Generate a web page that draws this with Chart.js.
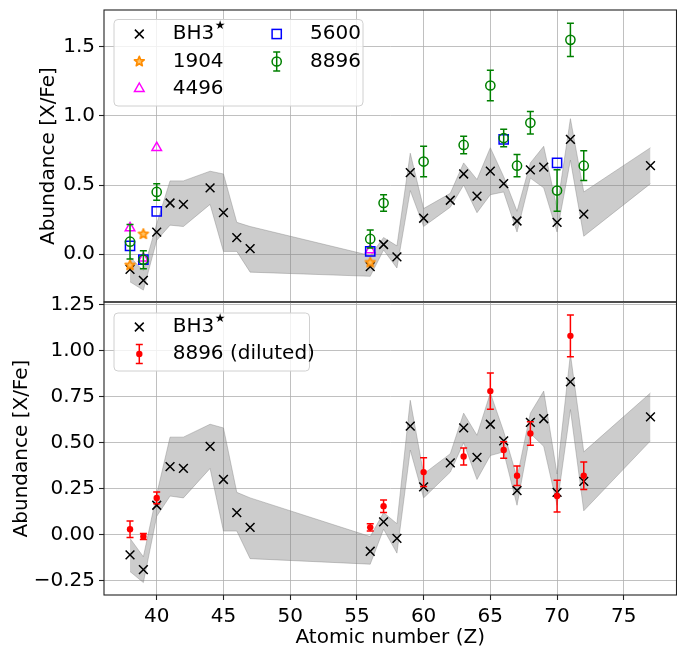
<!DOCTYPE html>
<html>
<head>
<meta charset="utf-8">
<script src="https://cdn.jsdelivr.net/npm/chart.js@4.4.1/dist/chart.umd.min.js"></script>
<style>
    html, body { margin: 0; padding: 0; background: #fff; }
    #wrap { position: relative; width: 677px; height: 646px; }
    #wrap canvas { position: absolute; left: 0; top: 0; }
</style>
</head>
<body>
<div id="wrap">
    <canvas id="top-panel" width="677" height="646"></canvas>
    <canvas id="bottom-panel" width="677" height="646"></canvas>
</div>
<script>
// BH3* abundances and the shaded uncertainty band
const bh3Z = [38, 39, 40, 41, 42, 44, 45, 46, 47, 56, 57, 58, 59, 60, 62, 63, 64, 65, 66, 67, 68, 69, 70, 71, 72, 77];
const bh3Values = [-0.11, -0.19, 0.16, 0.37, 0.36, 0.48, 0.30, 0.12, 0.04, -0.09, 0.07, -0.02, 0.59, 0.26, 0.39, 0.58, 0.42, 0.60, 0.51, 0.24, 0.61, 0.63, 0.23, 0.83, 0.29, 0.64];
const bh3Upper = [-0.02, -0.12, 0.22, 0.53, 0.53, 0.60, 0.58, 0.23, 0.20, -0.01, 0.12, 0.06, 0.73, 0.33, 0.44, 0.66, 0.54, 0.77, 0.56, 0.31, 0.66, 0.78, 0.33, 0.98, 0.45, 0.77];
const bh3Lower = [-0.20, -0.26, 0.10, 0.21, 0.20, 0.36, 0.02, 0.02, -0.13, -0.16, 0.03, -0.10, 0.46, 0.20, 0.34, 0.50, 0.30, 0.43, 0.45, 0.16, 0.55, 0.48, 0.16, 0.68, 0.13, 0.51];

// comparison stars (top panel)
const star1904Z = [38, 39, 56];
const star1904Values = [-0.08, 0.145, -0.06];
const star4496Z = [38, 39, 40, 56];
const star4496Values = [0.19, -0.03, 0.77, 0.03];
const star5600Z = [38, 39, 40, 56, 66, 70];
const star5600Values = [0.06, -0.04, 0.31, 0.02, 0.83, 0.66];
const star8896Z = [38, 39, 40, 56, 57, 60, 63, 65, 66, 67, 68, 70, 71, 72];
const star8896Values = [0.09, -0.04, 0.45, 0.11, 0.37, 0.67, 0.79, 1.22, 0.84, 0.64, 0.95, 0.46, 1.55, 0.64];
const star8896Errors = [0.125, 0.065, 0.06, 0.065, 0.06, 0.11, 0.063, 0.11, 0.063, 0.08, 0.081, 0.15, 0.12, 0.108];

// 8896 after dilution (bottom panel)
const dilutedValues = [0.03, -0.01, 0.20, 0.04, 0.155, 0.34, 0.425, 0.78, 0.46, 0.32, 0.55, 0.21, 1.08, 0.32];
const dilutedErrors = [0.045, 0.016, 0.032, 0.02, 0.034, 0.078, 0.046, 0.098, 0.045, 0.053, 0.064, 0.086, 0.114, 0.075];

// axes
const xTicks = [40, 45, 50, 55, 60, 65, 70, 75];
const topYTicks = [0.0, 0.5, 1.0, 1.5];
const bottomYTicks = [-0.25, 0.0, 0.25, 0.5, 0.75, 1.0, 1.25];

const FONT = "'DejaVu Sans', sans-serif";
const BAND = "rgba(128,128,128,0.4)";
const ORANGE = "#ff8c00";

function points(xs, ys) {
    return xs.map((x, i) => ({x: x, y: ys[i]}));
}

function starImage(color) {
    const c = document.createElement("canvas");
    c.width = 14;
    c.height = 14;
    const g = c.getContext("2d");
    drawStar(g, 7, 7, color);
    return c;
}

function drawStar(g, cx, cy, color) {
    g.save();
    g.strokeStyle = color;
    g.fillStyle = "#ffc266";
    g.lineWidth = 1.6;
    g.lineJoin = "round";
    g.beginPath();
    for (let i = 0; i < 10; i++) {
        const r = i % 2 ? 2.3 : 5.2;
        const a = -Math.PI / 2 + i * Math.PI / 5;
        g.lineTo(cx + r * Math.cos(a), cy + r * Math.sin(a));
    }
    g.closePath();
    g.fill();
    g.stroke();
    g.restore();
}

function bandDatasets() {
    return [{
        data: points(bh3Z, bh3Upper),
        showLine: true, pointRadius: 0, borderWidth: 1,
        borderColor: BAND, backgroundColor: BAND,
        fill: "+1", order: 20
    }, {
        data: points(bh3Z, bh3Lower),
        showLine: true, pointRadius: 0, borderWidth: 1,
        borderColor: BAND, fill: false, order: 21
    }];
}

function bh3Dataset() {
    return {
        data: points(bh3Z, bh3Values),
        pointStyle: "crossRot", pointRadius: 6.2, pointBorderWidth: 1.5,
        borderColor: "#000", backgroundColor: "#000", order: 10
    };
}

const errorBars = {
    id: "errorBars",
    afterDatasetsDraw(chart, args, opts) {
        const {ctx, scales} = chart;
        ctx.save();
        ctx.strokeStyle = opts.color;
        ctx.lineWidth = 1.5;
        opts.z.forEach((z, i) => {
            const px = scales.x.getPixelForValue(z);
            const top = scales.y.getPixelForValue(opts.values[i] + opts.errors[i]);
            const bot = scales.y.getPixelForValue(opts.values[i] - opts.errors[i]);
            ctx.beginPath();
            ctx.moveTo(px, top); ctx.lineTo(px, bot);
            ctx.moveTo(px - 3.5, top); ctx.lineTo(px + 3.5, top);
            ctx.moveTo(px - 3.5, bot); ctx.lineTo(px + 3.5, bot);
            ctx.stroke();
        });
        ctx.restore();
    }
};

const frame = {
    id: "frame",
    afterDraw(chart) {
        const {ctx, chartArea: a} = chart;
        ctx.save();
        ctx.strokeStyle = "#222";
        ctx.lineWidth = 1.1;
        ctx.strokeRect(a.left, a.top, a.right - a.left, a.bottom - a.top);
        ctx.restore();
    }
};

function drawMarker(ctx, kind, x, y) {
    ctx.save();
    ctx.lineWidth = 1.5;
    if (kind === "x") {
        ctx.strokeStyle = "#000";
        ctx.beginPath();
        ctx.moveTo(x - 4.4, y - 4.4); ctx.lineTo(x + 4.4, y + 4.4);
        ctx.moveTo(x - 4.4, y + 4.4); ctx.lineTo(x + 4.4, y - 4.4);
        ctx.stroke();
    } else if (kind === "star") {
        drawStar(ctx, x, y, ORANGE);
    } else if (kind === "triangle") {
        ctx.strokeStyle = "#ff00ff";
        ctx.beginPath();
        ctx.moveTo(x, y - 5.5); ctx.lineTo(x + 4.8, y + 3); ctx.lineTo(x - 4.8, y + 3);
        ctx.closePath();
        ctx.stroke();
    } else if (kind === "square") {
        ctx.strokeStyle = "#0000ff";
        ctx.strokeRect(x - 4.6, y - 4.6, 9.2, 9.2);
    } else {
        const color = kind === "circle" ? "#008000" : "#ff0000";
        ctx.strokeStyle = color;
        ctx.fillStyle = color;
        ctx.beginPath();
        ctx.moveTo(x, y - 9.5); ctx.lineTo(x, y + 9.5);
        ctx.moveTo(x - 3.5, y - 9.5); ctx.lineTo(x + 3.5, y - 9.5);
        ctx.moveTo(x - 3.5, y + 9.5); ctx.lineTo(x + 3.5, y + 9.5);
        ctx.stroke();
        ctx.beginPath();
        if (kind === "circle") {
            ctx.arc(x, y, 4.6, 0, Math.PI * 2);
            ctx.stroke();
        } else {
            ctx.arc(x, y, 3.2, 0, Math.PI * 2);
            ctx.fill();
        }
    }
    ctx.restore();
}

const legendBox = {
    id: "legendBox",
    afterDraw(chart, args, opts) {
        const ctx = chart.ctx;
        const b = opts.box;
        ctx.save();
        ctx.beginPath();
        ctx.roundRect(b[0], b[1], b[2], b[3], 4);
        ctx.fillStyle = "rgba(255,255,255,0.8)";
        ctx.fill();
        ctx.strokeStyle = "#d0d0d0";
        ctx.lineWidth = 1;
        ctx.stroke();
        ctx.fillStyle = "#000";
        ctx.textBaseline = "middle";
        for (const item of opts.items) {
            drawMarker(ctx, item.marker, item.mx, item.y);
            ctx.font = "20px " + FONT;
            ctx.fillText(item.text, item.tx, item.y);
            if (item.sup) {
                const w = ctx.measureText(item.text).width;
                ctx.font = "12px " + FONT;
                ctx.fillText(item.sup, item.tx + w + 0.5, item.y - 8);
            }
        }
        ctx.restore();
    }
};

function xScale(showLabels) {
    return {
        type: "linear", min: 36.05, max: 78.95,
        afterBuildTicks: s => { s.ticks = xTicks.map(v => ({value: v})); },
        afterFit: s => { s.height = showLabels ? 51 : 0; },
        border: {display: false},
        grid: {color: "#b0b0b0", lineWidth: 0.8, drawTicks: showLabels, tickLength: 5, tickColor: "#222", tickWidth: 1.1},
        ticks: {display: showLabels, padding: 5, color: "#000", font: {family: FONT, size: 20}, callback: v => String(v)},
        title: {display: showLabels, text: "Atomic number (Z)", color: "#000", padding: {top: 0, bottom: -1.5}, font: {family: FONT, size: 20, lineHeight: 1.0}}
    };
}

function yScale(min, max, ticks, digits, titlePad) {
    return {
        type: "linear", min: min, max: max,
        afterBuildTicks: s => { s.ticks = ticks.map(v => ({value: v})); },
        afterFit: s => {
            s.width = 104;
            s.paddingTop = 0;
            s.paddingBottom = 0;
        },
        border: {display: false},
        grid: {color: "#b0b0b0", lineWidth: 0.8, tickLength: 5, tickColor: "#222", tickWidth: 1.1},
        ticks: {
            padding: 4, color: "#000", font: {family: FONT, size: 20},
            callback: v => (v < 0 ? "\u2212" : "") + Math.abs(v).toFixed(digits)
        },
        title: {display: true, text: "Abundance [X/Fe]", color: "#000", padding: {top: titlePad, bottom: 0}, font: {family: FONT, size: 20, lineHeight: 1.2}}
    };
}

const commonOptions = {
    responsive: false,
    animation: false,
    devicePixelRatio: 1,
    events: []
};

new Chart(document.getElementById("top-panel"), {
    type: "scatter",
    data: {
        datasets: [
            ...bandDatasets(),
            bh3Dataset(),
            {data: points(star1904Z, star1904Values), pointStyle: starImage(ORANGE), order: 9},
            {data: points(star4496Z, star4496Values), pointStyle: "triangle", pointRadius: 5.5, pointBorderWidth: 1.5,
                borderColor: "#ff00ff", backgroundColor: "rgba(0,0,0,0)", order: 8},
            {data: points(star5600Z, star5600Values), pointStyle: "rect", pointRadius: 6.5, pointBorderWidth: 1.5,
                borderColor: "#0000ff", backgroundColor: "rgba(0,0,0,0)", order: 7},
            {data: points(star8896Z, star8896Values), pointStyle: "circle", pointRadius: 4.6, pointBorderWidth: 1.5,
                borderColor: "#008000", backgroundColor: "rgba(0,0,0,0)", order: 6}
        ]
    },
    options: {
        ...commonOptions,
        layout: {autoPadding: false, padding: {left: 0, right: 0.5, top: 10, bottom: 344}},
        scales: {x: xScale(false), y: yScale(-0.346, 1.766, topYTicks, 1, 37)},
        plugins: {
            legend: {display: false},
            tooltip: {enabled: false},
            errorBars: {z: star8896Z, values: star8896Values, errors: star8896Errors, color: "#008000"},
            legendBox: {
                box: [114, 19.5, 249, 86.5],
                items: [
                    {marker: "x", mx: 139.3, tx: 172.7, y: 34, text: "BH3", sup: "\u2605"},
                    {marker: "star", mx: 139.3, tx: 172.7, y: 61.5, text: "1904"},
                    {marker: "triangle", mx: 139.3, tx: 172.7, y: 88.5, text: "4496"},
                    {marker: "square", mx: 276.7, tx: 310, y: 34, text: "5600"},
                    {marker: "circle", mx: 276.7, tx: 310, y: 61.5, text: "8896"}
                ]
            }
        }
    },
    plugins: [errorBars, frame, legendBox]
});

new Chart(document.getElementById("bottom-panel"), {
    type: "scatter",
    data: {
        datasets: [
            ...bandDatasets(),
            bh3Dataset(),
            {data: points(star8896Z, dilutedValues), pointStyle: "circle", pointRadius: 3.2, pointBorderWidth: 0,
                borderColor: "#ff0000", backgroundColor: "#ff0000", order: 6}
        ]
    },
    options: {
        ...commonOptions,
        layout: {autoPadding: false, padding: {left: 0, right: 0.5, top: 302, bottom: 0}},
        scales: {x: xScale(true), y: yScale(-0.3275, 1.264, bottomYTicks, 2, 10)},
        plugins: {
            legend: {display: false},
            tooltip: {enabled: false},
            errorBars: {z: star8896Z, values: dilutedValues, errors: dilutedErrors, color: "#ff0000"},
            legendBox: {
                box: [114, 313, 195.5, 58],
                items: [
                    {marker: "x", mx: 139.3, tx: 172.7, y: 327, text: "BH3", sup: "\u2605"},
                    {marker: "dot", mx: 139.3, tx: 172.7, y: 354, text: "8896 (diluted)"}
                ]
            }
        }
    },
    plugins: [errorBars, frame, legendBox]
});
</script>
</body>
</html>
